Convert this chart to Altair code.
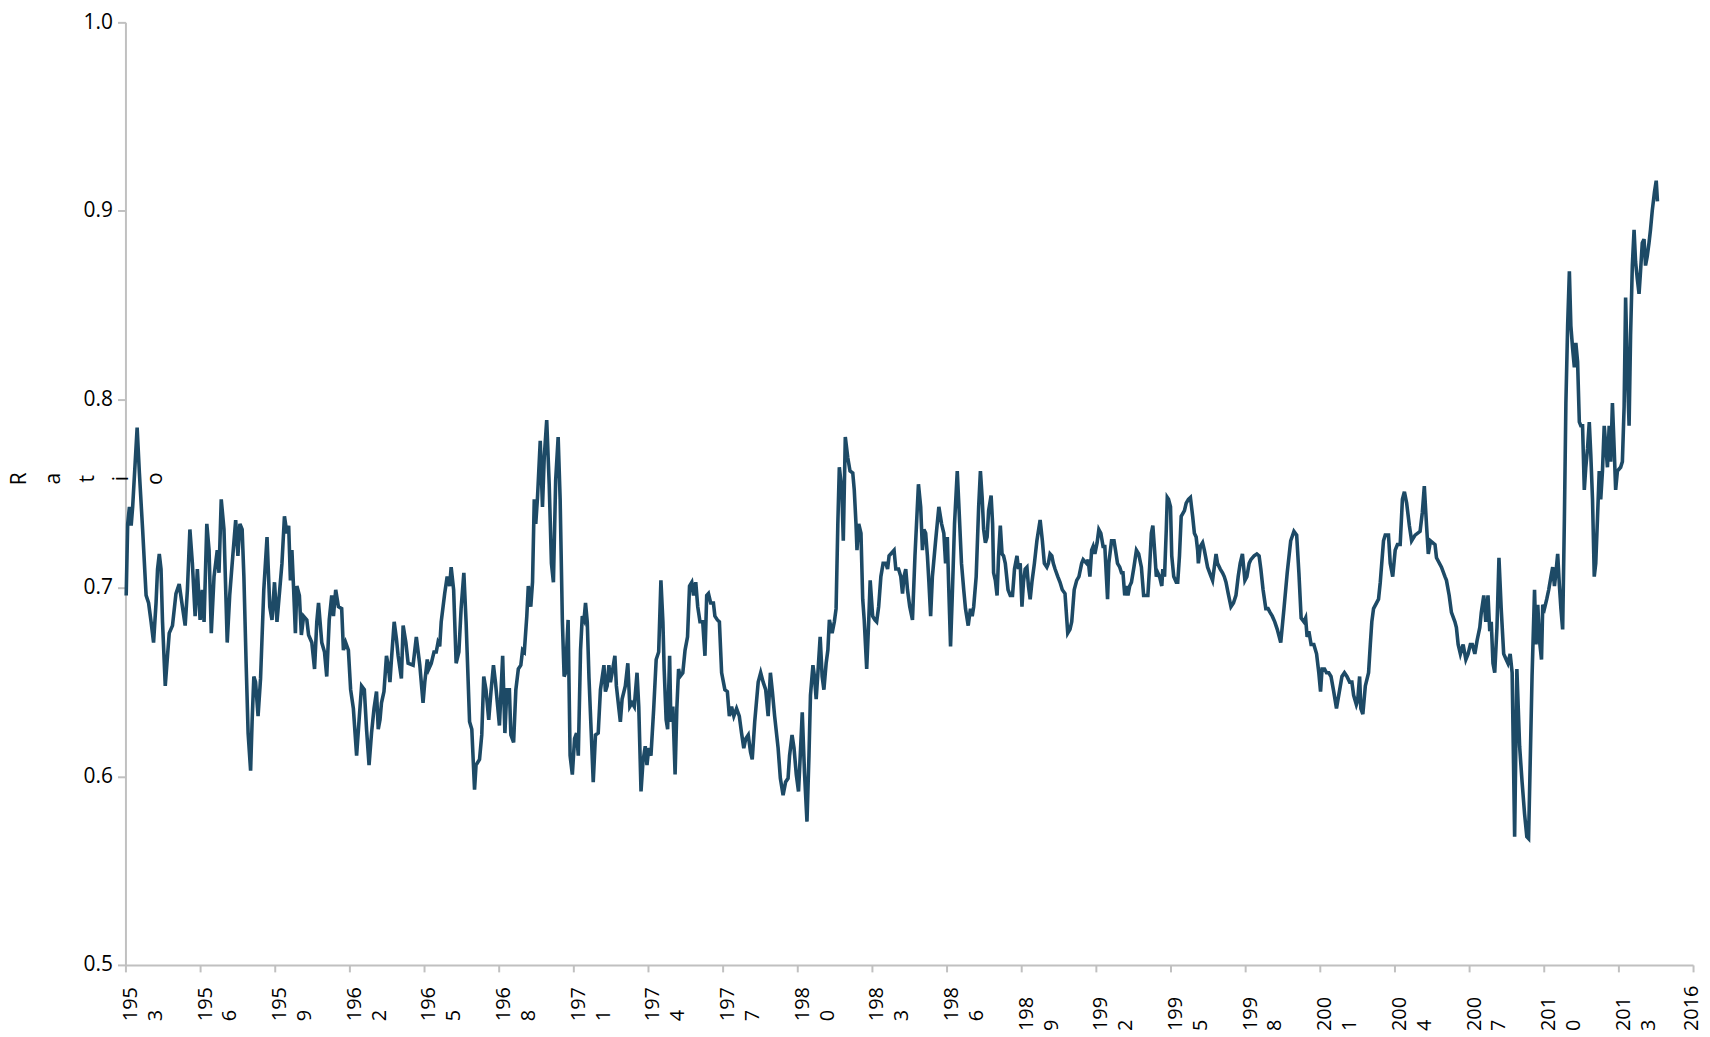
import altair as alt
import pandas as pd

# (year, ratio) readings taken off the reference line
period_1953_1967 = [
    (1953.03, 0.696), (1953.09, 0.734), (1953.16, 0.743), (1953.23, 0.733), (1953.29, 0.743),
    (1953.47, 0.785), (1953.56, 0.761), (1953.69, 0.731), (1953.83, 0.696), (1953.93, 0.692),
    (1954.03, 0.682), (1954.13, 0.671), (1954.23, 0.692), (1954.29, 0.710), (1954.36, 0.718),
    (1954.43, 0.710), (1954.49, 0.682), (1954.60, 0.648), (1954.69, 0.664), (1954.76, 0.676),
    (1954.89, 0.680), (1955.03, 0.697), (1955.16, 0.702), (1955.29, 0.690), (1955.40, 0.680),
    (1955.49, 0.699), (1955.59, 0.731), (1955.69, 0.713), (1955.80, 0.685), (1955.89, 0.710),
    (1956.00, 0.683), (1956.09, 0.699), (1956.16, 0.682), (1956.27, 0.734), (1956.36, 0.720),
    (1956.45, 0.676), (1956.56, 0.706), (1956.69, 0.720), (1956.76, 0.708), (1956.85, 0.747),
    (1956.96, 0.731), (1957.09, 0.671), (1957.19, 0.696), (1957.29, 0.713), (1957.43, 0.736),
    (1957.52, 0.717), (1957.60, 0.734), (1957.69, 0.731), (1957.76, 0.706), (1957.85, 0.660),
    (1957.93, 0.623), (1958.03, 0.603), (1958.09, 0.629), (1958.16, 0.653), (1958.23, 0.650),
    (1958.33, 0.632), (1958.43, 0.652), (1958.56, 0.699), (1958.69, 0.727), (1958.80, 0.690),
    (1958.89, 0.683), (1958.99, 0.703), (1959.09, 0.682), (1959.20, 0.699), (1959.29, 0.713),
    (1959.39, 0.738), (1959.49, 0.729), (1959.56, 0.733), (1959.63, 0.704), (1959.69, 0.720),
    (1959.76, 0.699), (1959.83, 0.676), (1959.89, 0.701), (1959.99, 0.696), (1960.07, 0.675),
    (1960.16, 0.685), (1960.29, 0.683), (1960.36, 0.675), (1960.49, 0.671), (1960.60, 0.657),
    (1960.69, 0.682), (1960.76, 0.692), (1960.89, 0.671), (1961.00, 0.666), (1961.09, 0.653),
    (1961.19, 0.683), (1961.29, 0.696), (1961.36, 0.685), (1961.45, 0.699), (1961.56, 0.690),
    (1961.69, 0.689), (1961.76, 0.667), (1961.85, 0.671), (1961.96, 0.667), (1962.05, 0.646),
    (1962.16, 0.636), (1962.29, 0.611), (1962.39, 0.630), (1962.49, 0.648), (1962.60, 0.646),
    (1962.69, 0.625), (1962.79, 0.606), (1962.89, 0.623), (1962.99, 0.636), (1963.09, 0.645),
    (1963.16, 0.625), (1963.23, 0.630), (1963.29, 0.639), (1963.39, 0.645), (1963.49, 0.664),
    (1963.56, 0.659), (1963.63, 0.650), (1963.69, 0.662), (1963.80, 0.682), (1963.89, 0.673),
    (1963.96, 0.664), (1964.09, 0.652), (1964.16, 0.680), (1964.27, 0.671), (1964.36, 0.660),
    (1964.56, 0.659), (1964.69, 0.674), (1964.83, 0.659), (1964.96, 0.639), (1965.03, 0.650),
    (1965.13, 0.662), (1965.19, 0.657), (1965.29, 0.660), (1965.40, 0.666), (1965.49, 0.666),
    (1965.56, 0.671), (1965.63, 0.669), (1965.69, 0.682), (1965.83, 0.697), (1965.93, 0.706),
    (1966.03, 0.701), (1966.09, 0.711), (1966.19, 0.699), (1966.29, 0.660), (1966.40, 0.666),
    (1966.49, 0.689), (1966.60, 0.708), (1966.69, 0.682), (1966.83, 0.629), (1966.92, 0.625),
    (1967.03, 0.593), (1967.09, 0.606), (1967.23, 0.609), (1967.32, 0.622), (1967.40, 0.653),
    (1967.49, 0.646), (1967.60, 0.630), (1967.69, 0.645), (1967.79, 0.659), (1967.87, 0.650),
]

period_1968_1983 = [
    (1968.03, 0.627), (1968.16, 0.664), (1968.25, 0.623), (1968.33, 0.646), (1968.43, 0.646),
    (1968.49, 0.622), (1968.60, 0.618), (1968.69, 0.646), (1968.79, 0.657), (1968.89, 0.659),
    (1968.96, 0.667), (1969.03, 0.666), (1969.13, 0.685), (1969.19, 0.701), (1969.29, 0.690),
    (1969.36, 0.703), (1969.43, 0.747), (1969.49, 0.734), (1969.56, 0.748), (1969.67, 0.778),
    (1969.76, 0.743), (1969.83, 0.769), (1969.93, 0.789), (1970.03, 0.755), (1970.12, 0.713),
    (1970.20, 0.703), (1970.29, 0.757), (1970.39, 0.780), (1970.47, 0.747), (1970.56, 0.682),
    (1970.63, 0.653), (1970.69, 0.655), (1970.79, 0.683), (1970.87, 0.611), (1970.96, 0.601),
    (1971.05, 0.620), (1971.13, 0.623), (1971.20, 0.611), (1971.29, 0.667), (1971.36, 0.685),
    (1971.43, 0.683), (1971.49, 0.692), (1971.56, 0.682), (1971.63, 0.652), (1971.72, 0.623),
    (1971.80, 0.597), (1971.89, 0.622), (1972.00, 0.623), (1972.09, 0.646), (1972.23, 0.659),
    (1972.29, 0.645), (1972.36, 0.648), (1972.43, 0.659), (1972.49, 0.650), (1972.56, 0.655),
    (1972.67, 0.664), (1972.73, 0.648), (1972.83, 0.636), (1972.89, 0.629), (1972.96, 0.641),
    (1973.09, 0.648), (1973.19, 0.660), (1973.27, 0.637), (1973.36, 0.639), (1973.45, 0.637),
    (1973.56, 0.655), (1973.63, 0.637), (1973.72, 0.592), (1973.80, 0.608), (1973.89, 0.616),
    (1973.96, 0.606), (1974.03, 0.615), (1974.12, 0.611), (1974.23, 0.636), (1974.33, 0.662),
    (1974.43, 0.666), (1974.52, 0.704), (1974.60, 0.682), (1974.65, 0.657), (1974.73, 0.630),
    (1974.79, 0.625), (1974.87, 0.664), (1974.92, 0.629), (1975.00, 0.637), (1975.09, 0.601),
    (1975.16, 0.636), (1975.23, 0.657), (1975.29, 0.653), (1975.40, 0.655), (1975.49, 0.667),
    (1975.59, 0.674), (1975.67, 0.701), (1975.76, 0.703), (1975.83, 0.696), (1975.92, 0.703),
    (1976.00, 0.690), (1976.09, 0.682), (1976.20, 0.682), (1976.29, 0.664), (1976.36, 0.696),
    (1976.43, 0.697), (1976.52, 0.692), (1976.63, 0.692), (1976.69, 0.685), (1976.79, 0.683),
    (1976.87, 0.682), (1976.96, 0.655), (1977.09, 0.646), (1977.19, 0.645), (1977.27, 0.632),
    (1977.36, 0.637), (1977.45, 0.632), (1977.56, 0.636), (1977.67, 0.632), (1977.76, 0.623),
    (1977.85, 0.615), (1977.93, 0.620), (1978.03, 0.622), (1978.12, 0.613), (1978.19, 0.609),
    (1978.29, 0.629), (1978.43, 0.650), (1978.53, 0.655), (1978.63, 0.650), (1978.73, 0.646),
    (1978.83, 0.632), (1978.92, 0.655), (1979.00, 0.645), (1979.09, 0.632), (1979.23, 0.615),
    (1979.32, 0.599), (1979.43, 0.590), (1979.53, 0.597), (1979.63, 0.599), (1979.69, 0.611),
    (1979.79, 0.622), (1979.87, 0.615), (1979.96, 0.601), (1980.05, 0.592), (1980.12, 0.611),
    (1980.20, 0.634), (1980.29, 0.602), (1980.39, 0.576), (1980.47, 0.611), (1980.53, 0.643),
    (1980.63, 0.659), (1980.69, 0.653), (1980.76, 0.641), (1980.83, 0.655), (1980.92, 0.674),
    (1981.00, 0.653), (1981.07, 0.646), (1981.16, 0.660), (1981.23, 0.667), (1981.29, 0.683),
    (1981.40, 0.676), (1981.49, 0.682), (1981.56, 0.689), (1981.63, 0.734), (1981.69, 0.764),
    (1981.79, 0.752), (1981.85, 0.725), (1981.93, 0.780), (1982.03, 0.769), (1982.12, 0.762),
    (1982.23, 0.761), (1982.29, 0.752), (1982.36, 0.734), (1982.40, 0.720), (1982.47, 0.734),
    (1982.56, 0.729), (1982.63, 0.694), (1982.69, 0.683), (1982.79, 0.657), (1982.87, 0.682),
    (1982.93, 0.704), (1983.03, 0.685), (1983.12, 0.683), (1983.19, 0.682), (1983.27, 0.690),
    (1983.36, 0.706), (1983.45, 0.713),
]

period_1983_1999 = [
    (1983.56, 0.713), (1983.63, 0.710), (1983.69, 0.717), (1983.89, 0.720), (1983.96, 0.710),
    (1984.07, 0.710), (1984.16, 0.706), (1984.23, 0.697), (1984.29, 0.706), (1984.36, 0.710),
    (1984.43, 0.699), (1984.52, 0.690), (1984.63, 0.683), (1984.73, 0.717), (1984.87, 0.755),
    (1984.96, 0.743), (1985.03, 0.720), (1985.09, 0.731), (1985.16, 0.729), (1985.23, 0.717),
    (1985.29, 0.703), (1985.36, 0.685), (1985.43, 0.706), (1985.56, 0.725), (1985.69, 0.743),
    (1985.80, 0.734), (1985.89, 0.729), (1985.96, 0.713), (1986.03, 0.727), (1986.09, 0.699),
    (1986.16, 0.669), (1986.23, 0.696), (1986.32, 0.734), (1986.43, 0.762), (1986.49, 0.745),
    (1986.60, 0.713), (1986.69, 0.699), (1986.76, 0.689), (1986.87, 0.680), (1986.96, 0.689),
    (1987.03, 0.685), (1987.09, 0.690), (1987.19, 0.706), (1987.29, 0.743), (1987.36, 0.762),
    (1987.43, 0.748), (1987.49, 0.731), (1987.56, 0.724), (1987.63, 0.727), (1987.69, 0.741),
    (1987.79, 0.749), (1987.85, 0.734), (1987.89, 0.708), (1987.96, 0.704), (1988.03, 0.696),
    (1988.09, 0.717), (1988.16, 0.733), (1988.23, 0.718), (1988.29, 0.717), (1988.36, 0.713),
    (1988.47, 0.699), (1988.56, 0.696), (1988.65, 0.696), (1988.73, 0.710), (1988.83, 0.717),
    (1988.89, 0.710), (1988.96, 0.713), (1989.03, 0.690), (1989.09, 0.703), (1989.16, 0.710),
    (1989.23, 0.711), (1989.29, 0.701), (1989.36, 0.694), (1989.43, 0.703), (1989.53, 0.713),
    (1989.63, 0.725), (1989.76, 0.736), (1989.85, 0.725), (1989.93, 0.713), (1990.03, 0.711),
    (1990.09, 0.713), (1990.16, 0.718), (1990.23, 0.717), (1990.29, 0.713), (1990.36, 0.710),
    (1990.47, 0.706), (1990.56, 0.703), (1990.65, 0.699), (1990.76, 0.697), (1990.87, 0.676),
    (1990.96, 0.678), (1991.03, 0.682), (1991.13, 0.699), (1991.23, 0.704), (1991.32, 0.706),
    (1991.43, 0.713), (1991.49, 0.715), (1991.63, 0.713), (1991.69, 0.715), (1991.76, 0.706),
    (1991.83, 0.720), (1991.89, 0.722), (1991.96, 0.718), (1992.05, 0.724), (1992.12, 0.731),
    (1992.20, 0.729), (1992.29, 0.722), (1992.36, 0.722), (1992.47, 0.694), (1992.52, 0.713),
    (1992.63, 0.725), (1992.73, 0.725), (1992.79, 0.720), (1992.87, 0.713), (1992.96, 0.711),
    (1993.03, 0.708), (1993.09, 0.708), (1993.16, 0.696), (1993.23, 0.701), (1993.29, 0.696),
    (1993.36, 0.701), (1993.43, 0.703), (1993.53, 0.711), (1993.63, 0.720), (1993.72, 0.718),
    (1993.83, 0.711), (1993.92, 0.696), (1994.03, 0.696), (1994.09, 0.696), (1994.16, 0.711),
    (1994.23, 0.729), (1994.29, 0.733), (1994.36, 0.720), (1994.43, 0.706), (1994.49, 0.708),
    (1994.56, 0.706), (1994.65, 0.701), (1994.69, 0.710), (1994.76, 0.706), (1994.83, 0.731),
    (1994.87, 0.748), (1994.92, 0.747), (1995.00, 0.743), (1995.05, 0.717), (1995.13, 0.706),
    (1995.23, 0.703), (1995.29, 0.703), (1995.36, 0.717), (1995.43, 0.738), (1995.56, 0.741),
    (1995.63, 0.745), (1995.72, 0.747), (1995.80, 0.748), (1995.89, 0.738), (1995.96, 0.729),
    (1996.03, 0.727), (1996.09, 0.720), (1996.12, 0.713), (1996.20, 0.722), (1996.29, 0.724),
    (1996.36, 0.720), (1996.49, 0.711), (1996.63, 0.706), (1996.69, 0.704), (1996.76, 0.711),
    (1996.83, 0.718), (1996.89, 0.713), (1997.00, 0.710), (1997.09, 0.708), (1997.16, 0.706),
    (1997.23, 0.703), (1997.32, 0.697), (1997.43, 0.690), (1997.53, 0.692), (1997.63, 0.696),
    (1997.72, 0.706), (1997.80, 0.713), (1997.89, 0.718), (1997.99, 0.704), (1998.07, 0.706),
    (1998.16, 0.713), (1998.23, 0.715), (1998.36, 0.717), (1998.47, 0.718), (1998.56, 0.717),
    (1998.63, 0.710), (1998.72, 0.699), (1998.83, 0.689), (1998.92, 0.689), (1999.00, 0.687),
    (1999.09, 0.685), (1999.19, 0.682), (1999.29, 0.678),
]

period_1999_2014 = [
    (1999.43, 0.671), (1999.56, 0.689), (1999.69, 0.708), (1999.83, 0.725), (1999.96, 0.730),
    (2000.07, 0.728), (2000.16, 0.708), (2000.25, 0.684), (2000.36, 0.682), (2000.43, 0.684),
    (2000.49, 0.674), (2000.56, 0.677), (2000.65, 0.670), (2000.76, 0.670), (2000.87, 0.665),
    (2000.96, 0.655), (2001.03, 0.645), (2001.09, 0.657), (2001.19, 0.657), (2001.27, 0.655),
    (2001.36, 0.655), (2001.45, 0.653), (2001.56, 0.645), (2001.67, 0.636), (2001.76, 0.643),
    (2001.89, 0.653), (2001.99, 0.655), (2002.09, 0.653), (2002.20, 0.650), (2002.29, 0.650),
    (2002.36, 0.643), (2002.47, 0.638), (2002.52, 0.640), (2002.60, 0.653), (2002.65, 0.636),
    (2002.73, 0.633), (2002.83, 0.648), (2002.96, 0.655), (2003.03, 0.670), (2003.09, 0.682),
    (2003.16, 0.689), (2003.36, 0.694), (2003.43, 0.703), (2003.56, 0.725), (2003.63, 0.728),
    (2003.76, 0.728), (2003.83, 0.713), (2003.93, 0.706), (2004.03, 0.720), (2004.12, 0.723),
    (2004.23, 0.723), (2004.32, 0.747), (2004.40, 0.751), (2004.49, 0.745), (2004.60, 0.733),
    (2004.69, 0.725), (2004.83, 0.728), (2005.03, 0.730), (2005.12, 0.740), (2005.20, 0.754),
    (2005.29, 0.733), (2005.36, 0.718), (2005.45, 0.725), (2005.63, 0.723), (2005.69, 0.716),
    (2005.89, 0.711), (2006.03, 0.706), (2006.09, 0.704), (2006.20, 0.696), (2006.29, 0.687),
    (2006.43, 0.682), (2006.49, 0.679), (2006.56, 0.670), (2006.65, 0.665), (2006.76, 0.670),
    (2006.87, 0.662), (2006.96, 0.665), (2007.05, 0.670), (2007.13, 0.670), (2007.23, 0.665),
    (2007.32, 0.672), (2007.43, 0.679), (2007.49, 0.687), (2007.59, 0.696), (2007.67, 0.682),
    (2007.76, 0.696), (2007.83, 0.677), (2007.89, 0.682), (2007.96, 0.660), (2008.03, 0.655),
    (2008.12, 0.679), (2008.20, 0.716), (2008.29, 0.689), (2008.39, 0.665), (2008.49, 0.662),
    (2008.56, 0.660), (2008.65, 0.665), (2008.73, 0.655), (2008.83, 0.568), (2008.92, 0.657),
    (2009.03, 0.616), (2009.13, 0.597), (2009.23, 0.580), (2009.32, 0.568), (2009.39, 0.567),
    (2009.45, 0.604), (2009.53, 0.653), (2009.63, 0.699), (2009.69, 0.670), (2009.76, 0.691),
    (2009.83, 0.672), (2009.91, 0.662), (2009.96, 0.691), (2010.03, 0.689), (2010.12, 0.694),
    (2010.20, 0.699), (2010.29, 0.706), (2010.36, 0.711), (2010.43, 0.701), (2010.49, 0.708),
    (2010.56, 0.718), (2010.63, 0.701), (2010.69, 0.689), (2010.76, 0.678), (2010.83, 0.737),
    (2010.89, 0.798), (2010.96, 0.839), (2011.03, 0.868), (2011.09, 0.839), (2011.16, 0.827),
    (2011.23, 0.817), (2011.29, 0.830), (2011.36, 0.820), (2011.43, 0.788), (2011.49, 0.786),
    (2011.56, 0.786), (2011.63, 0.752), (2011.69, 0.764), (2011.76, 0.774), (2011.83, 0.788),
    (2011.89, 0.771), (2011.96, 0.747), (2012.03, 0.706), (2012.09, 0.713), (2012.16, 0.737),
    (2012.23, 0.762), (2012.29, 0.747), (2012.36, 0.762), (2012.43, 0.786), (2012.49, 0.776),
    (2012.56, 0.764), (2012.63, 0.786), (2012.69, 0.767), (2012.76, 0.798), (2012.83, 0.774),
    (2012.89, 0.752), (2012.96, 0.762), (2013.09, 0.764), (2013.16, 0.767), (2013.23, 0.796),
    (2013.29, 0.854), (2013.36, 0.815), (2013.43, 0.786), (2013.49, 0.834), (2013.56, 0.871),
    (2013.63, 0.890), (2013.69, 0.873), (2013.76, 0.864), (2013.83, 0.856), (2013.89, 0.868),
    (2013.96, 0.883), (2014.03, 0.885), (2014.09, 0.871), (2014.16, 0.876), (2014.23, 0.883),
    (2014.29, 0.890), (2014.36, 0.900), (2014.45, 0.910), (2014.52, 0.916), (2014.57, 0.905),
]

x_tick_years = list(range(1953, 2017, 3))
y_tick_values = [0.5, 0.6, 0.7, 0.8, 0.9, 1.0]
y_title_letters = ["R", "a", "t", "i", "o"]

rows = period_1953_1967 + period_1968_1983 + period_1983_1999 + period_1999_2014
df = pd.DataFrame(rows, columns=["year", "ratio"])

FONT = "Open Sans"
AXIS_GREY = "#c0c0c0"
TEXT = "#000000"

x_axis = alt.Axis(
    values=x_tick_years,
    format="d",
    title=None,
    grid=False,
    labelExpr="datum.value < 2015 ? [substring(datum.label, 0, 3), substring(datum.label, 3)] : datum.label",
    labelAngle=270,
    labelAlign="left",
    labelBaseline="middle",
    labelFont=FONT,
    labelFontSize=20,
    labelColor=TEXT,
    labelLineHeight=25,
    labelFlush=False,
    labelOverlap=False,
    labelOffset={"condition": {"test": "datum.value < 2015", "value": 5}, "value": -2},
    labelPadding={"condition": {"test": "datum.value < 1988", "value": 49}, "value": 59},
    domainColor=AXIS_GREY,
    domainWidth=2,
    tickColor=AXIS_GREY,
    tickWidth=2,
    tickSize=7,
)

y_axis = alt.Axis(
    values=y_tick_values,
    format=".1f",
    title=y_title_letters,
    titleFont=FONT,
    titleFontSize=21,
    titleFontWeight="normal",
    titleColor=TEXT,
    titleAngle=270,
    titleLineHeight=34,
    titleAlign="center",
    titleBaseline="top",
    titleX=-117,
    titleY=458,
    grid=False,
    labelFont=FONT,
    labelFontSize=21,
    labelColor=TEXT,
    labelPadding=5,
    labelFlush=False,
    domainColor=AXIS_GREY,
    domainWidth=2,
    tickColor=AXIS_GREY,
    tickWidth=2,
    tickSize=8,
)

chart = (
    alt.Chart(df)
    .mark_line(color="#1d4a66", strokeWidth=3.6)
    .encode(
        x=alt.X("year:Q", scale=alt.Scale(domain=[1953, 2016], nice=False, zero=False), axis=x_axis),
        y=alt.Y("ratio:Q", scale=alt.Scale(domain=[0.5, 1.0], nice=False, zero=False), axis=y_axis),
    )
    .properties(
        width=1575,
        height=947,
        autosize="none",
        padding={"left": 118, "top": 12, "right": 9, "bottom": 72},
        background="white",
    )
    .configure_view(stroke=None)
)

chart.save("out.html", embed_options={"renderer": "svg", "actions": False})
